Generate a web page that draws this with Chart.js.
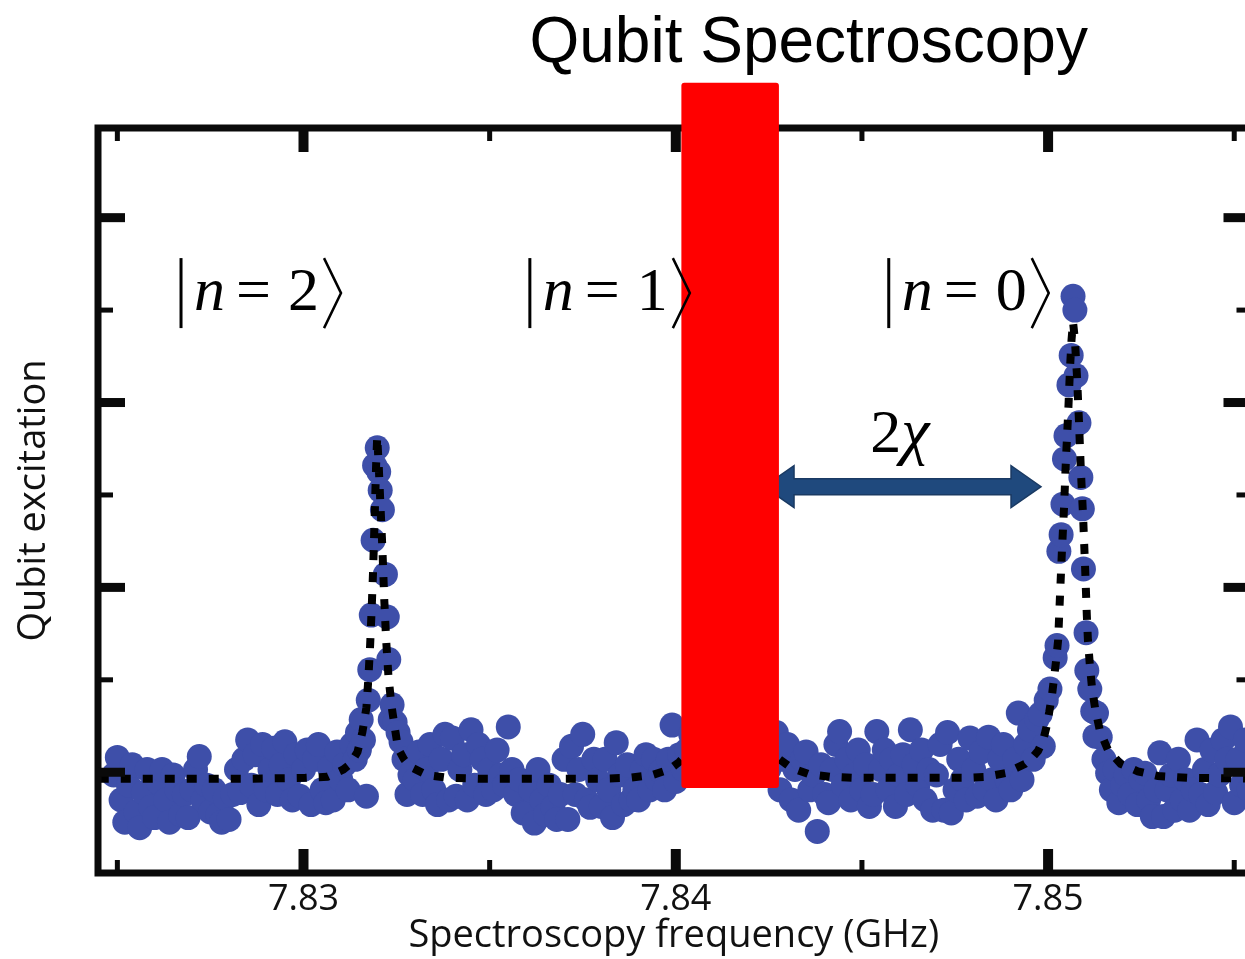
<!DOCTYPE html>
<html>
<head>
<meta charset="utf-8">
<script src="https://cdn.jsdelivr.net/npm/chart.js@4.4.0/dist/chart.umd.min.js"></script>
<style>
  html, body { margin: 0; padding: 0; background: #fff; overflow: hidden; }
  #wrap { width: 1262px; height: 959px; }
</style>
</head>
<body>
<div id="wrap"><canvas id="mychart" width="1262" height="959"></canvas></div>
<script>
// swept drive frequency (GHz) and measured qubit excitation (arb. units)
var freqGHz = [
  7.8249, 7.8250, 7.8251, 7.8252, 7.8253, 7.8254, 7.8255, 7.8256, 7.8257, 7.8258, 7.8259,
  7.8260, 7.8261, 7.8262, 7.8263, 7.8264, 7.8265, 7.8266, 7.8267, 7.8268, 7.8269,
  7.8270, 7.8271, 7.8272, 7.8273, 7.8274, 7.8275, 7.8276, 7.8277, 7.8278, 7.8279,
  7.8280, 7.8281, 7.8282, 7.8283, 7.8284, 7.8285, 7.8286, 7.8287, 7.8288, 7.8289,
  7.8290, 7.8291, 7.8292, 7.8293, 7.8294, 7.8295, 7.8296, 7.8297, 7.8298, 7.8299,
  7.8300, 7.8301, 7.8302, 7.8303, 7.8304, 7.8305, 7.8306, 7.8307, 7.8308, 7.8309,
  7.8310, 7.8311, 7.8312, 7.8313,
  7.83139, 7.83145, 7.83150, 7.83155, 7.83161, 7.83169, 7.83174, 7.83178, 7.83182, 7.83187,
  7.83191, 7.83198, 7.83202, 7.83206, 7.83212, 7.83220, 7.83225, 7.83229, 7.83233, 7.83238,
  7.83246, 7.83254, 7.83262, 7.83270, 7.83278, 7.83286,
  7.8330, 7.8331, 7.8332, 7.8333, 7.8334, 7.8335, 7.8336, 7.8337, 7.8338, 7.8339,
  7.8340, 7.8341, 7.8342, 7.8343, 7.8344, 7.8345, 7.8346, 7.8347, 7.8348, 7.8349,
  7.8350, 7.8351, 7.8352, 7.8353, 7.8354, 7.8355, 7.8356, 7.8357, 7.8358, 7.8359,
  7.8360, 7.8361, 7.8362, 7.8363, 7.8364, 7.8365, 7.8366, 7.8367, 7.8368, 7.8369,
  7.8370, 7.8371, 7.8372, 7.8373, 7.8374, 7.8375, 7.8376, 7.8377, 7.8378, 7.8379,
  7.8380, 7.8381, 7.8382, 7.8383, 7.8384, 7.8385, 7.8386, 7.8387, 7.8388, 7.8389,
  7.8390, 7.8391, 7.8392, 7.8393, 7.8394, 7.8395, 7.8396, 7.8397, 7.8398, 7.8399,
  7.8400, 7.8401, 7.8402, 7.8403, 7.8404, 7.8405, 7.8406, 7.8407, 7.8408, 7.8409,
  7.8410, 7.8411, 7.8412, 7.8413, 7.8414, 7.8415, 7.8416, 7.8417, 7.8418, 7.8419,
  7.8420, 7.8421, 7.8422, 7.8423, 7.8424, 7.8425, 7.8426, 7.8427, 7.8428, 7.8429,
  7.8430, 7.8431, 7.8432, 7.8433, 7.8434, 7.8435, 7.8436, 7.8437, 7.8438, 7.8439,
  7.8440, 7.8441, 7.8442, 7.8443, 7.8444, 7.8445, 7.8446, 7.8447, 7.8448, 7.8449,
  7.8450, 7.8451, 7.8452, 7.8453, 7.8454, 7.8455, 7.8456, 7.8457, 7.8458, 7.8459,
  7.8460, 7.8461, 7.8462, 7.8463, 7.8464, 7.8465, 7.8466, 7.8467, 7.8468, 7.8469,
  7.8470, 7.8471, 7.8472, 7.8473, 7.8474, 7.8475, 7.8476, 7.8477, 7.8478, 7.8479,
  7.8480, 7.8481, 7.8482, 7.8483, 7.8484, 7.8485, 7.8486, 7.8487, 7.8488, 7.8489,
  7.8490, 7.8491, 7.8492, 7.8493, 7.8494, 7.8495, 7.8496, 7.8497,
  7.84979, 7.84987, 7.84995, 7.85005, 7.85019, 7.85024, 7.85029, 7.85035, 7.85040, 7.85044,
  7.85048, 7.85056, 7.85062, 7.85067, 7.85072, 7.85075, 7.85083, 7.85088, 7.85092, 7.85095,
  7.85102, 7.85104, 7.85112, 7.85120, 7.85126,
  7.8513, 7.8514, 7.8515, 7.8516, 7.8517, 7.8518, 7.8519,
  7.8520, 7.8521, 7.8522, 7.8523, 7.8524, 7.8525, 7.8526, 7.8527, 7.8528, 7.8529,
  7.8530, 7.8531, 7.8532, 7.8533, 7.8534, 7.8535, 7.8536, 7.8537, 7.8538, 7.8539,
  7.8540, 7.8541, 7.8542, 7.8543, 7.8544, 7.8545, 7.8546, 7.8547, 7.8548, 7.8549,
  7.8550, 7.8551, 7.8552, 7.8553, 7.8554, 7.8555
];
var excitation = [
  9.7, 11.6, 7.0, 4.6, 8.6, 10.8, 5.7, 4.0, 7.8, 10.3, 6.2,
  5.1, 8.9, 10.3, 7.0, 4.6, 9.7, 8.1, 5.4, 7.6, 5.1,
  8.1, 10.3, 11.7, 7.0, 8.6, 5.7, 8.1, 5.4, 4.6, 7.2,
  4.9, 7.6, 10.3, 7.8, 11.4, 13.5, 8.6, 11.9, 6.5, 13.0,
  8.1, 10.3, 12.6, 7.6, 10.8, 13.3, 9.2, 7.0, 11.9, 7.4,
  10.3, 12.4, 6.5, 11.4, 13.0, 8.1, 6.7, 10.5, 7.0, 12.2,
  9.2, 10.8, 8.1, 13.0,
  11.4, 14.3, 12.4, 15.7, 13.5, 7.4, 17.8, 21.1, 27.0, 35.1,
  43.2, 45.1, 42.5, 40.5, 38.4, 31.4, 26.8, 22.2, 15.7, 17.3,
  15.4, 14.3, 13.3, 11.4, 7.6, 9.7,
  9.2, 12.2, 7.6, 10.3, 13.0, 8.1, 6.5, 11.4, 14.1, 7.0,
  13.7, 7.4, 10.3, 11.9, 7.0, 14.6, 8.6, 13.0, 11.4, 7.6,
  10.3, 8.1, 12.4, 9.7, 8.6, 14.9, 10.3, 7.6, 9.2, 5.6,
  5.6, 8.1, 4.5, 10.3, 7.0, 5.4, 8.6, 6.2, 4.9, 7.6,
  11.4, 4.9, 12.8, 7.6, 10.3, 14.1, 7.0, 6.2, 11.4, 9.2,
  6.3, 11.4, 8.1, 5.1, 13.2, 9.7, 6.5, 10.8, 7.0, 8.1,
  7.0, 10.3, 11.9, 8.1, 11.4, 9.2, 10.1, 8.1, 11.4, 15.1,
  9.0, 11.9, 10.3, 12.4, 14.1, 13.0, 15.7, 17.3, 20.0, 22.7,
  27.6, 35.1, 42.7, 48.1, 51.4, 49.7, 43.8, 33.0, 24.3, 18.9,
  15.7, 14.1, 12.6, 11.4, 11.9, 10.3, 13.0, 14.3, 8.1, 11.4,
  13.0, 7.0, 10.3, 5.9, 11.4, 12.2, 8.1, 9.7, 3.6, 10.8,
  7.6, 6.7, 10.3, 13.0, 14.4, 8.6, 11.4, 7.0, 9.7, 12.4,
  8.1, 10.8, 6.3, 7.6, 14.4, 10.3, 12.4, 8.1, 11.4, 6.3,
  9.7, 11.9, 7.6, 14.6, 10.8, 8.6, 12.4, 7.0, 10.3, 5.9,
  9.7, 13.0, 5.9, 14.3, 5.6, 8.1, 11.4, 9.2, 7.0, 13.7,
  10.3, 7.4, 12.2, 8.1, 13.8, 9.2, 7.0, 11.4, 13.0, 9.2,
  8.1, 11.4, 16.4, 9.2, 13.0, 14.6, 11.4, 15.7,
  16.3, 12.8, 17.8, 19.0, 22.4, 23.7, 33.9, 35.7, 39.0, 43.9,
  46.4, 51.9, 55.1, 61.5, 60.0, 52.9, 47.8, 41.9, 38.5, 32.0,
  25.1, 21.0, 19.0, 16.6, 13.9,
  16.4, 13.8, 11.4, 9.9, 8.1, 10.3, 6.7,
  8.6, 9.7, 7.6, 10.3, 6.5, 9.2, 9.9, 7.0, 5.2, 8.1,
  12.1, 5.2, 8.1, 9.7, 5.9, 11.4, 7.0, 9.2, 5.9, 8.1,
  13.5, 7.6, 10.3, 6.5, 12.4, 7.8, 9.7, 13.5, 11.4, 14.9,
  6.7, 11.4, 8.6, 13.5, 8.1, 10.3
];

// Lorentzian fit through the three photon-number peaks
var fitFreqGHz = [
  7.8245, 7.82858, 7.83005, 7.83064, 7.83107, 7.83126, 7.83145, 7.83158, 7.83169, 7.83174,
  7.83179, 7.83183, 7.83187, 7.83191, 7.83195, 7.83198, 7.83202, 7.83206, 7.83212, 7.83217,
  7.83222, 7.83228, 7.83236, 7.83246, 7.83254, 7.83270, 7.83286, 7.83332, 7.83386, 7.83474,
  7.83795, 7.83876, 7.83937, 7.83983, 7.84009, 7.84036, 7.84063, 7.84090, 7.84108, 7.84125,
  7.84138, 7.84149, 7.84162, 7.84178, 7.84197, 7.84224, 7.84250, 7.84272, 7.84309, 7.84357,
  7.84416, 7.84473, 7.84778, 7.84831, 7.84885, 7.84938, 7.84960, 7.84973, 7.84987, 7.84995,
  7.85003, 7.85011, 7.85016, 7.85021, 7.85027, 7.85032, 7.85037, 7.85043, 7.85048, 7.85054,
  7.85059, 7.85063, 7.85067, 7.85072, 7.85078, 7.85083, 7.85088, 7.85094, 7.85099, 7.85104,
  7.85107, 7.85112, 7.85118, 7.85126, 7.85139, 7.85161, 7.85195, 7.85241, 7.85295, 7.85375,
  7.85562
];
var fitExcitation = [
  9.3, 9.3, 9.4, 9.5, 10.3, 10.9, 12.2, 14.3, 17.0, 20.0,
  23.8, 27.6, 31.9, 37.3, 43.2, 46.3, 43.2, 39.5, 34.1, 28.6,
  24.3, 20.5, 17.3, 14.6, 12.6, 11.4, 10.6, 9.7, 9.4, 9.3,
  9.3, 9.4, 9.7, 10.3, 11.1, 12.2, 14.1, 17.8, 25.4, 37.3,
  48.1, 50.3, 42.7, 28.6, 18.9, 14.1, 12.2, 11.6, 10.5, 9.8,
  9.5, 9.4, 9.4, 9.5, 9.9, 10.9, 11.7, 12.3, 13.5, 14.8,
  16.5, 18.5, 20.2, 21.9, 24.3, 29.1, 33.8, 38.8, 43.9, 48.9,
  53.8, 56.8, 58.7, 56.8, 52.6, 47.9, 42.7, 37.7, 32.6, 27.0,
  24.3, 21.7, 19.1, 17.0, 14.5, 12.4, 10.9, 10.1, 9.6, 9.4,
  9.3
];

var xTickLabels = [7.83, 7.84, 7.85];
var xMinorTicks = [7.825, 7.835, 7.845, 7.855];
var yMajorTicks = [10, 30, 50, 70];
var yMinorTicks = [20, 40, 60];

// photon number states and where their ket labels sit
var ketLevels = ['2', '1', '0'];
var ketFreqs = [7.82671, 7.83608, 7.84572];
var ketLevel = 60.0;

// dispersive shift arrow between n=1 and n=0
var chiArrow = { from: 7.84237, to: 7.84981, level: 40.9 };
var chiLabel = { freq: 7.84522, level: 44.6 };
// drive tone marker
var driveBand = { from: 7.84015, to: 7.84277, low: 8.3, high: 84.6 };
var titleAnchor = { freq: 7.84357, level: 86.8 };

var points = freqGHz.map(function (f, i) { return { x: f, y: excitation[i] }; });
var fitPoints = fitFreqGHz.map(function (f, i) { return { x: f, y: fitExcitation[i] }; });

var overlay = {
  id: 'overlay',
  afterDraw: function (chart) {
    var ctx = chart.ctx, a = chart.chartArea;
    var xs = chart.scales.x, ys = chart.scales.y;
    ctx.save();

    // frame with inward ticks
    ctx.strokeStyle = '#0a0a0a';
    ctx.fillStyle = '#0a0a0a';
    ctx.lineWidth = 7;
    ctx.strokeRect(a.left, a.top, a.right - a.left, a.bottom - a.top);
    xTickLabels.forEach(function (v) {
      var px = xs.getPixelForValue(v);
      ctx.fillRect(px - 5, a.top, 10, 24);
      ctx.fillRect(px - 5, a.bottom - 24, 10, 24);
    });
    xMinorTicks.forEach(function (v) {
      var px = xs.getPixelForValue(v);
      ctx.fillRect(px - 2.5, a.top, 5, 13);
      ctx.fillRect(px - 2.5, a.bottom - 13, 5, 13);
    });
    yMajorTicks.forEach(function (v) {
      var py = ys.getPixelForValue(v);
      ctx.fillRect(a.left, py - 4.5, 27, 9);
      ctx.fillRect(a.right - 26, py - 4.5, 26, 9);
    });
    yMinorTicks.forEach(function (v) {
      var py = ys.getPixelForValue(v);
      ctx.fillRect(a.left, py - 2.5, 15, 5);
      ctx.fillRect(a.right - 13, py - 2.5, 13, 5);
    });

    // double arrow (2 chi)
    var xl = xs.getPixelForValue(chiArrow.from), xr = xs.getPixelForValue(chiArrow.to);
    var yc = ys.getPixelForValue(chiArrow.level);
    var hl = 30, hh = 21, sh = 8;
    ctx.beginPath();
    ctx.moveTo(xl, yc);
    ctx.lineTo(xl + hl, yc - hh);
    ctx.lineTo(xl + hl, yc - sh);
    ctx.lineTo(xr - hl, yc - sh);
    ctx.lineTo(xr - hl, yc - hh);
    ctx.lineTo(xr, yc);
    ctx.lineTo(xr - hl, yc + hh);
    ctx.lineTo(xr - hl, yc + sh);
    ctx.lineTo(xl + hl, yc + sh);
    ctx.lineTo(xl + hl, yc + hh);
    ctx.closePath();
    ctx.fillStyle = '#1f497d';
    ctx.fill();
    ctx.lineWidth = 1.5;
    ctx.strokeStyle = '#1a3a63';
    ctx.stroke();

    // red drive band
    var bx0 = xs.getPixelForValue(driveBand.from), bx1 = xs.getPixelForValue(driveBand.to);
    var by0 = ys.getPixelForValue(driveBand.high), by1 = ys.getPixelForValue(driveBand.low);
    var r = 3;
    ctx.beginPath();
    ctx.moveTo(bx0 + r, by0);
    ctx.lineTo(bx1 - r, by0);
    ctx.quadraticCurveTo(bx1, by0, bx1, by0 + r);
    ctx.lineTo(bx1, by1 - r);
    ctx.quadraticCurveTo(bx1, by1, bx1 - r, by1);
    ctx.lineTo(bx0 + r, by1);
    ctx.quadraticCurveTo(bx0, by1, bx0, by1 - r);
    ctx.lineTo(bx0, by0 + r);
    ctx.quadraticCurveTo(bx0, by0, bx0 + r, by0);
    ctx.closePath();
    ctx.fillStyle = '#ff0000';
    ctx.fill();

    // ket labels |n = k>
    ctx.fillStyle = '#000';
    ctx.strokeStyle = '#000';
    ctx.textBaseline = 'alphabetic';
    ctx.textAlign = 'left';
    var y0 = ys.getPixelForValue(ketLevel);
    ketLevels.forEach(function (k, i) {
      var x0 = xs.getPixelForValue(ketFreqs[i]);
      ctx.fillRect(x0 - 1.5, y0 - 52, 3, 70);
      ctx.font = 'italic 62px "Liberation Serif"';
      ctx.fillText('n', x0 + 13, y0);
      ctx.font = '62px "Liberation Serif"';
      ctx.fillText('=', x0 + 55, y0);
      ctx.fillText(k, x0 + 107, y0);
      ctx.lineWidth = 2.5;
      ctx.beginPath();
      ctx.moveTo(x0 + 143, y0 - 52);
      ctx.lineTo(x0 + 160, y0 - 17);
      ctx.lineTo(x0 + 143, y0 + 18);
      ctx.stroke();
    });

    // 2 chi label
    var cx = xs.getPixelForValue(chiLabel.freq), cy = ys.getPixelForValue(chiLabel.level);
    ctx.font = '62px "Liberation Serif"';
    ctx.fillText('2', cx, cy);
    ctx.font = 'italic 64px "Liberation Serif"';
    ctx.fillText('\u03c7', cx + 31, cy);

    // title
    ctx.font = '64px "Liberation Sans"';
    ctx.textAlign = 'center';
    ctx.fillText('Qubit Spectroscopy', xs.getPixelForValue(titleAnchor.freq), ys.getPixelForValue(titleAnchor.level));

    ctx.restore();
  }
};

new Chart(document.getElementById('mychart'), {
  type: 'scatter',
  data: {
    datasets: [{
      type: 'line',
      label: 'Fit',
      data: fitPoints,
      borderColor: '#000',
      borderWidth: 8,
      borderDash: [10, 12],
      pointRadius: 0,
      fill: false,
      tension: 0,
      order: 0
    }, {
      type: 'scatter',
      label: 'Data',
      data: points,
      pointRadius: 12.5,
      pointBackgroundColor: '#3e4fa9',
      pointBorderWidth: 0,
      order: 1
    }]
  },
  options: {
    responsive: false,
    animation: false,
    devicePixelRatio: 1,
    layout: { padding: { top: 128, right: 10, bottom: 0, left: 0 } },
    plugins: {
      legend: { display: false },
      tooltip: { enabled: false },
      title: { display: false }
    },
    scales: {
      x: {
        type: 'linear',
        min: 7.82448,
        max: 7.85541,
        afterBuildTicks: function (s) {
          s.ticks = xTickLabels.map(function (v) { return { value: v }; });
        },
        ticks: {
          callback: function (v) { return Number(v).toFixed(2); },
          font: { family: 'Open Sans', size: 36 },
          color: '#111',
          padding: 5,
          maxRotation: 0,
          autoSkip: false
        },
        grid: { display: false, drawTicks: false },
        border: { display: false },
        title: {
          display: true,
          text: 'Spectroscopy frequency (GHz)',
          font: { family: 'Open Sans', size: 38 },
          color: '#111',
          padding: { top: 0, bottom: 0 }
        },
        afterFit: function (s) { s.height = 86; }
      },
      y: {
        type: 'linear',
        min: -0.9,
        max: 79.7,
        ticks: { display: false },
        grid: { display: false, drawTicks: false },
        border: { display: false },
        title: {
          display: true,
          text: 'Qubit excitation',
          font: { family: 'Open Sans', size: 38 },
          color: '#111',
          padding: { top: 11, bottom: 0 }
        },
        afterFit: function (s) { s.width = 98; }
      }
    }
  },
  plugins: [overlay]
});
</script>
</body>
</html>
